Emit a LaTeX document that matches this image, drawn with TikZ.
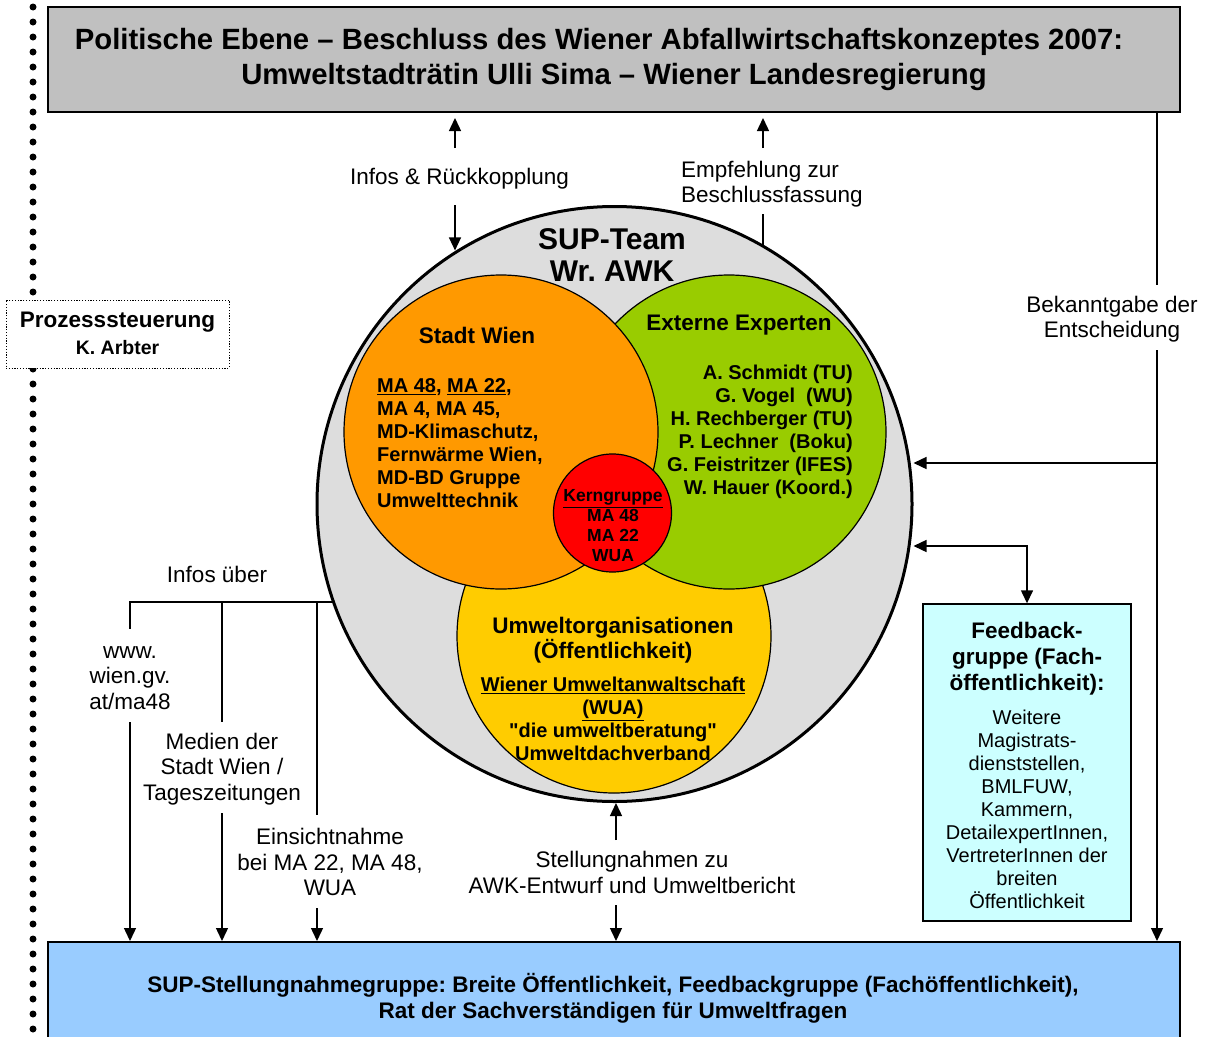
\documentclass[tikz,border=0pt]{standalone}
\usepackage{fontspec}
\setmainfont{Liberation Sans}
\usetikzlibrary{arrows.meta,shapes.geometric}
\definecolor{cgray}{RGB}{221,221,221}
\definecolor{ctop}{RGB}{192,192,192}
\definecolor{cbot}{RGB}{153,204,255}
\definecolor{cfb}{RGB}{204,255,255}
\definecolor{corange}{RGB}{255,153,0}
\definecolor{cgreen}{RGB}{153,204,0}
\definecolor{cyellow}{RGB}{255,204,0}
\definecolor{cred}{RGB}{255,0,0}
\frenchspacing
\begin{document}
\frenchspacing
\begin{tikzpicture}[x=1pt,y=-1pt,
  rbox/.style={draw, line width=2pt, inner sep=0pt},
  circ/.style={circle, draw, line width=1.2pt, inner sep=0pt},
  ln/.style={line width=1.4pt},
  arr/.style={ln, -{Triangle[width=12pt,length=13pt]}},
  arrb/.style={ln, {Triangle[width=12pt,length=13pt]}-{Triangle[width=12pt,length=13pt]}},
  lbl/.style={inner sep=0pt, align=center, font=\fontsize{22.5}{25.5}\selectfont},
  hd/.style={inner sep=0pt, align=center, font=\fontsize{22.5}{25}\selectfont\bfseries},
  lst/.style={inner sep=0pt, font=\fontsize{20}{23}\selectfont\bfseries},
  rt/.style={inner sep=0pt, align=center, font=\fontsize{20}{23}\selectfont},
  dotline/.style={line width=7pt, line cap=round, dash pattern=on 0pt off 15pt}
]
\useasboundingbox (0,0) rectangle (1207,1036);
\clip (0,0) rectangle (1207,1036);

% left dotted process line
\draw[dotline] (33,7) -- (33,296);
\draw[dotline] (33,369) -- (33,1045);
\node[draw, line width=0.9pt, dash pattern=on 1.2pt off 1.6pt, fill=white, minimum width=223pt, minimum height=68pt, inner sep=0pt] (proz) at (117.5,334) {};
\node[inner sep=0pt, font=\fontsize{22.5}{25}\selectfont\bfseries] at (117.5,322) {Prozesssteuerung};
\node[inner sep=0pt, font=\fontsize{19.5}{22}\selectfont\bfseries] at (117.5,348) {K. Arbter};

% top box
\node[rbox, fill=ctop, minimum width=1132pt, minimum height=105pt, align=center,
      font=\fontsize{29.3}{35.5}\selectfont\bfseries] (top) at (614,59.5)
  {Politische Ebene – Beschluss des Wiener Abfallwirtschaftskonzeptes 2007:\hspace*{30pt}\\Umweltstadträtin Ulli Sima – Wiener Landesregierung};

% bottom box
\node[rbox, fill=cbot, minimum width=1132pt, minimum height=100pt] (bot) at (614,992) {};
\node[inner sep=0pt, align=center, font=\fontsize{22.5}{26}\selectfont\bfseries] at (613,998)
  {SUP-Stellungnahmegruppe: Breite Öffentlichkeit, Feedbackgruppe (Fachöffentlichkeit),\\Rat der Sachverständigen für Umweltfragen};

% feedback box
\node[draw, line width=1.4pt, fill=cfb, minimum width=208pt, minimum height=317pt, inner sep=0pt] (fb) at (1027,762.5) {};
\node[hd, font=\fontsize{22.5}{26}\selectfont\bfseries] at (1027,659) {Feedback-\\gruppe (Fach-\\öffentlichkeit):};
\node[rt] at (1027,809) {Weitere\\Magistrats-\\dienststellen,\\BMLFUW,\\Kammern,\\DetailexpertInnen,\\VertreterInnen der\\breiten\\Öffentlichkeit};

% circles
\node[circle, draw, line width=3pt, fill=cgray, minimum size=595pt, inner sep=0pt] (sup) at (614.5,504) {};
\node[circ, fill=cyellow, minimum size=314pt] (uo) at (614,636) {};
\node[circ, fill=cgreen, minimum size=314pt] (ext) at (729,432) {};
\node[circ, fill=corange, minimum size=314pt] (sw) at (501,432) {};
\node[circ, fill=cred, minimum size=118pt] (kern) at (612.5,513) {};

\node[inner sep=0pt, align=center, font=\fontsize{30}{32}\selectfont\bfseries] at (612,255.5) {SUP-Team\\Wr. AWK};
\node[hd] at (477,335) {Stadt Wien};
\node[lst, anchor=west, align=left] at (377,443.5)
  {\underline{MA 48}, \underline{MA 22},\\MA 4, MA 45,\\MD-Klimaschutz,\\Fernwärme Wien,\\MD-BD Gruppe\\Umwelttechnik};
\node[hd] at (739,325) {Externe Experten};
\node[lst, anchor=east, align=right] at (853,431.5)
  {A. Schmidt (TU)\\G. Vogel\ \ (WU)\\H. Rechberger (TU)\\P. Lechner\ \ (Boku)\\G. Feistritzer (IFES)\\W. Hauer (Koord.)};
\node[inner sep=0pt, align=center, font=\fontsize{17.5}{20}\selectfont\bfseries] at (613,526)
  {\underline{Kerngruppe}\\MA 48\\MA 22\\WUA};
\node[hd] at (613,640) {Umweltorganisationen\\(Öffentlichkeit)};
\node[lst, align=center] at (613,719)
  {\underline{Wiener Umweltanwaltschaft}\\\underline{(WUA)}\\\textquotedbl die umweltberatung\textquotedbl\\Umweltdachverband};

% labels
\node[lbl] (irk) at (459.5,179) {Infos \& Rückkopplung};
\node[lbl, anchor=west, align=left] (emp) at (681,184) {Empfehlung zur\\Beschlussfassung};
\node[lbl] (bek) at (1112,319) {Bekanntgabe der\\Entscheidung};
\node[lbl] (iub) at (217,574) {Infos über};
\node[lbl] (www) at (130,678) {www.\\wien.gv.\\at/ma48};
\node[lbl] (med) at (222,769) {Medien der\\Stadt Wien /\\Tageszeitungen};
\node[lbl] (ein) at (330,862) {Einsichtnahme\\bei MA 22, MA 48,\\WUA};
\node[lbl] (stl) at (632,872.5) {Stellungnahmen zu\\AWK-Entwurf und Umweltbericht};

% connector end points next to labels
\coordinate (irkU) at (455,148);
\coordinate (irkD) at (455,205);
\coordinate (empU) at (763,148);
\coordinate (empD) at (763,214);
\coordinate (bekU) at (1157,285);
\coordinate (bekD) at (1157,350);
\coordinate (j1) at (1157,463);
\coordinate (fbc) at (1025,546);
\coordinate (hb1) at (130,602);
\coordinate (hb2) at (222,602);
\coordinate (hb3) at (317,602);
\coordinate (wA) at (130,629);
\coordinate (wB) at (130,722);
\coordinate (mA) at (222,722);
\coordinate (mB) at (222,813);
\coordinate (eA) at (317,815);
\coordinate (eB) at (317,908);
\coordinate (sA) at (616,840);
\coordinate (sB) at (616,905);

% connectors
\draw[arr, shorten >=5pt] (irkU) -- (irkU |- top.south);
\draw[arr] (irkD) -- (irkD |- sup.122.4);
\draw[arr, shorten >=5pt] (empU) -- (empU |- top.south);
\draw[ln] (empD) -- (empD |- sup.60);
\draw[ln] (bekU |- top.south) -- (bekU);
\draw[arr] (bekD) -- (bekD |- bot.north);
\draw[arr] (j1) -- (j1 -| sup.east);
\draw[arrb] (fbc -| sup.east) -| (fb.north);
\draw[ln] (hb1 -| sup.199.2) -- (hb1) -- (wA);
\draw[ln] (hb2) -- (mA);
\draw[ln] (hb3) -- (eA);
\draw[arr] (wB) -- (wB |- bot.north);
\draw[arr] (mB) -- (mB |- bot.north);
\draw[arr] (eB) -- (eB |- bot.north);
\draw[arr] (sA) -- (sA |- sup.south);
\draw[arr] (sB) -- (sB |- bot.north);
\end{tikzpicture}
\end{document}
